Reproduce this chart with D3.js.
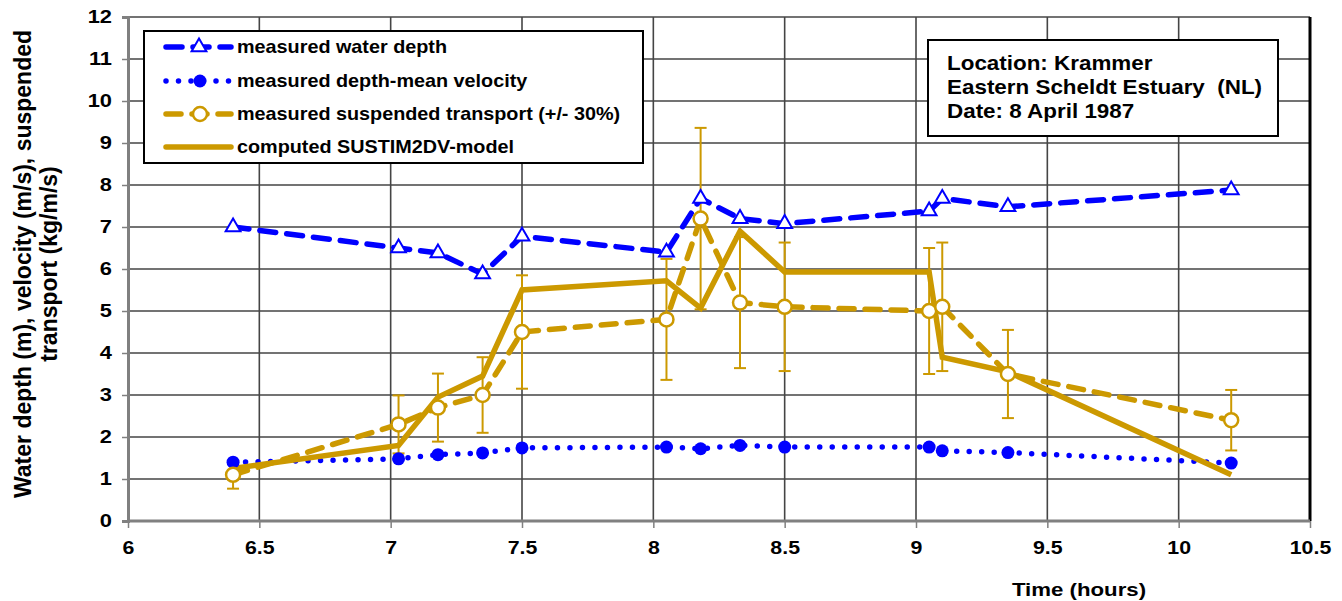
<!DOCTYPE html>
<html>
<head>
<meta charset="utf-8">
<script src="https://cdn.jsdelivr.net/npm/d3@7/dist/d3.min.js"></script>
<style>
  body { margin: 0; background: #fff; }
  text { font-family: "Liberation Sans", Arial, sans-serif; font-weight: bold; fill: #000; }
</style>
</head>
<body>
<div id="chart"></div>
<script>
// time of each measurement (hours)
var times = [6.4, 7.03, 7.18, 7.35, 7.5, 8.05, 8.18, 8.33, 8.5, 9.05, 9.1, 9.35, 10.2];
var waterDepth = [7.0, 6.5, 6.38, 5.88, 6.78, 6.4, 7.68, 7.2, 7.08, 7.38, 7.68, 7.48, 7.88];
var velocity = [1.4, 1.48, 1.58, 1.62, 1.74, 1.76, 1.72, 1.8, 1.76, 1.76, 1.67, 1.63, 1.38];
var transport = [1.1, 2.3, 2.7, 3.0, 4.5, 4.8, 7.2, 5.2, 5.1, 5.0, 5.1, 3.5, 2.4];
var model = [1.25, 1.8, 2.95, 3.45, 5.5, 5.72, 5.07, 6.9, 5.93, 5.93, 3.9, 3.55, 1.1];
var errFrac = 0.3; // +/- 30% on measured transport

var xTicks = [6, 6.5, 7, 7.5, 8, 8.5, 9, 9.5, 10, 10.5];
var yTicks = [0, 1, 2, 3, 4, 5, 6, 7, 8, 9, 10, 11, 12];

var legendLabels = [
  "measured water depth",
  "measured depth-mean velocity",
  "measured suspended transport (+/- 30%)",
  "computed SUSTIM2DV-model"
];
var infoLines = ["Location: Krammer", "Eastern Scheldt Estuary  (NL)", "Date: 8 April 1987"];

var blue = "#0000ff";
var gold = "#cc9900";

var W = 1342, H = 601;
var margin = { top: 17, right: 32, bottom: 80, left: 128 };
var width = W - margin.left - margin.right;
var height = H - margin.top - margin.bottom;

var svg = d3.select("#chart").append("svg")
  .attr("width", W)
  .attr("height", H);

var g = svg.append("g")
  .attr("transform", `translate(${margin.left},${margin.top})`);

var x = d3.scaleLinear().domain([6, 10.5]).range([0, width]);
var y = d3.scaleLinear().domain([0, 12]).range([height, 0]);

// gridlines
g.selectAll("line.hgrid").data(yTicks).enter().append("line")
  .attr("class", "hgrid")
  .attr("x1", 0).attr("x2", width)
  .attr("y1", d => y(d)).attr("y2", d => y(d))
  .style("stroke", "#454545").style("stroke-width", 1.6);
g.selectAll("line.vgrid").data(xTicks.slice(1, -1)).enter().append("line")
  .attr("class", "vgrid")
  .attr("y1", 0).attr("y2", height)
  .attr("x1", d => x(d)).attr("x2", d => x(d))
  .style("stroke", "#454545").style("stroke-width", 1.6);

// right border
g.append("line")
  .attr("x1", width).attr("x2", width).attr("y1", 0).attr("y2", height)
  .style("stroke", "#000").style("stroke-width", 3);

// axes
var xAxis = g.append("g")
  .attr("transform", `translate(0,${height})`)
  .call(d3.axisBottom(x).tickValues(xTicks).tickFormat(d3.format("")).tickSize(7).tickPadding(14));
var yAxis = g.append("g")
  .call(d3.axisLeft(y).tickValues(yTicks).tickSize(6));
[xAxis, yAxis].forEach(function(a) {
  a.select(".domain").style("stroke", "#808080").style("stroke-width", 3);
  a.selectAll(".tick line").style("stroke", "#808080").style("stroke-width", 1.5);
  a.selectAll(".tick text").style("font-size", "17.5px").style("font-family", "Liberation Sans, Arial, sans-serif").style("font-weight", "bold").style("fill", "#000");
});
xAxis.select(".domain").attr("d", `M0,0H${width}`);
xAxis.selectAll(".tick text").attr("transform", "scale(1.22,1)");
yAxis.selectAll(".tick text").attr("x", 0).attr("transform", "translate(-16,0) scale(1.25,1)");

// axis titles
svg.append("text")
  .attr("transform", "translate(1079,596) scale(1.17,1)")
  .attr("text-anchor", "middle")
  .style("font-size", "19px")
  .text("Time (hours)");
var yTitle = svg.append("text")
  .attr("transform", "translate(31,264) rotate(-90) scale(1,1.05)")
  .attr("text-anchor", "middle")
  .style("font-size", "23px");
yTitle.append("tspan").attr("x", 0).attr("y", 0).text("Water depth (m), velocity (m/s), suspended");
yTitle.append("tspan").attr("x", 0).attr("y", 24.5).text("transport (kg/m/s)");

var line = function(vals) {
  return d3.line().x((d, i) => x(times[i])).y(d => y(d))(vals);
};

// error bars
var eb = g.selectAll("g.err").data(transport).enter().append("g").attr("class", "err");
eb.append("line")
  .attr("x1", (d, i) => x(times[i])).attr("x2", (d, i) => x(times[i]))
  .attr("y1", d => y(d * (1 - errFrac))).attr("y2", d => y(d * (1 + errFrac)));
[1 - errFrac, 1 + errFrac].forEach(function(f) {
  eb.append("line")
    .attr("x1", (d, i) => x(times[i]) - 6).attr("x2", (d, i) => x(times[i]) + 6)
    .attr("y1", d => y(d * f)).attr("y2", d => y(d * f));
});
eb.selectAll("line").style("stroke", gold).style("stroke-width", 2);

// series lines
g.append("path").attr("d", line(waterDepth))
  .style("fill", "none").style("stroke", blue).style("stroke-width", 5.5)
  .style("stroke-dasharray", "16 11").style("stroke-linecap", "round");
g.append("path").attr("d", line(velocity))
  .style("fill", "none").style("stroke", blue).style("stroke-width", 5.5)
  .style("stroke-dasharray", "0 12.5").style("stroke-linecap", "round");
g.append("path").attr("d", line(transport))
  .style("fill", "none").style("stroke", gold).style("stroke-width", 5.5)
  .style("stroke-dasharray", "15 11").style("stroke-linecap", "round");
g.append("path").attr("d", line(model))
  .style("fill", "none").style("stroke", gold).style("stroke-width", 5.5)
  .style("stroke-linejoin", "miter");

// markers
var tri = d3.symbol().type(d3.symbolTriangle).size(95);
g.selectAll("path.tri").data(waterDepth).enter().append("path")
  .attr("class", "tri")
  .attr("d", tri)
  .attr("transform", (d, i) => `translate(${x(times[i])},${y(d)})`)
  .style("fill", "#fff").style("stroke", blue).style("stroke-width", 2);
g.selectAll("circle.vel").data(velocity).enter().append("circle")
  .attr("class", "vel")
  .attr("cx", (d, i) => x(times[i])).attr("cy", d => y(d)).attr("r", 6.5)
  .style("fill", blue);
g.selectAll("circle.tr").data(transport).enter().append("circle")
  .attr("class", "tr")
  .attr("cx", (d, i) => x(times[i])).attr("cy", d => y(d)).attr("r", 7)
  .style("fill", "#fff").style("stroke", gold).style("stroke-width", 2.5);

// legend
var leg = svg.append("g").attr("transform", "translate(144,31)");
leg.append("rect").attr("width", 499).attr("height", 132)
  .style("fill", "#fff").style("stroke", "#000").style("stroke-width", 2);
var rowY = [16, 50, 83, 116];
var styles = [
  { c: blue, dash: "16 11", w: 5.5 },
  { c: blue, dash: "0 12.5", w: 5.5 },
  { c: gold, dash: "15 11", w: 5.5 },
  { c: gold, dash: null, w: 5.5 }
];
legendLabels.forEach(function(lbl, i) {
  var r = leg.append("g").attr("transform", `translate(0,${rowY[i]})`);
  var s = styles[i];
  var sample = r.append("line").attr("x1", 22).attr("x2", 87).attr("y1", 0).attr("y2", 0)
    .style("stroke", s.c).style("stroke-width", s.w).style("stroke-linecap", "round");
  if (s.dash) sample.style("stroke-dasharray", s.dash);
  if (i == 0) r.append("path").attr("d", tri).attr("transform", "translate(55,0)")
    .style("fill", "#fff").style("stroke", blue).style("stroke-width", 2);
  if (i == 1) r.append("circle").attr("cx", 56).attr("r", 6.5).style("fill", blue);
  if (i == 2) r.append("circle").attr("cx", 56).attr("r", 7)
    .style("fill", "#fff").style("stroke", gold).style("stroke-width", 2.5);
  r.append("text").attr("transform", "translate(93,6) scale(1.1,1)")
    .style("font-size", "18px").text(lbl);
});

// info box
var info = svg.append("g").attr("transform", "translate(928,40)");
info.append("rect").attr("width", 350).attr("height", 96)
  .style("fill", "#fff").style("stroke", "#000").style("stroke-width", 2);
info.selectAll("text").data(infoLines).enter().append("text")
  .attr("transform", (d, i) => `translate(19,${30 + i * 24}) scale(1.15,1)`)
  .style("font-size", "19.5px")
  .style("white-space", "pre")
  .text(d => d);
</script>
</body>
</html>
